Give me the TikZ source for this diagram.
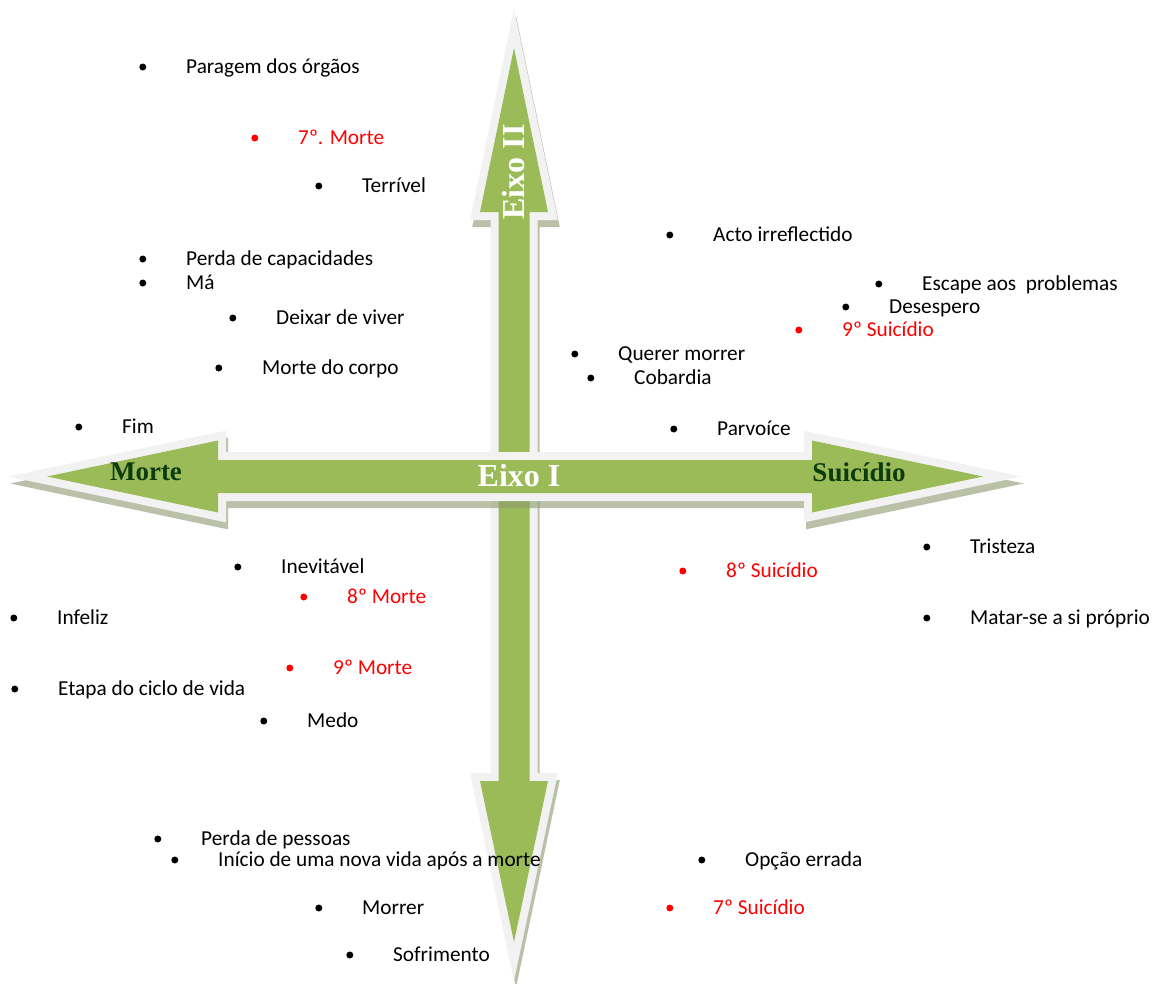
\documentclass[tikz,border=0pt]{standalone}
\usepackage{fontspec}
\setmainfont{Carlito}
\newfontfamily\serifb{Liberation Serif}
\usepackage{tikz}

\definecolor{verde}{RGB}{155,187,89}
\definecolor{borda}{RGB}{242,242,242}
\definecolor{sombra}{RGB}{140,152,110}
\definecolor{verdeescuro}{RGB}{12,60,12}

% contornos das setas
\newcommand{\setaH}{(47,476.5) -- (218,440.5) -- (218,460) -- (812,460) -- (812,440.5) -- (983,476.5) -- (812,512.5) -- (812,493) -- (218,493) -- (218,512.5) -- cycle}
\newcommand{\setaV}{(514,48) -- (548,212) -- (529.5,212) -- (529.5,781) -- (548,781) -- (514,942) -- (480,781) -- (498.5,781) -- (498.5,212) -- (480,212) -- cycle}

\begin{document}
\begin{tikzpicture}[x=1pt, y=-1pt,
	item/.style={anchor=west, inner sep=0pt, text height=15pt, text depth=3pt, yshift=-1pt,
		font=\fontsize{21.3}{25}\selectfont, text=#1,
		label={[bolinha, fill=#1]left:{}}},
	item/.default=black,
	bolinha/.style={circle, inner sep=0pt, minimum size=7pt, xshift=-39.5pt},
	contorno/.style={draw=borda, line width=16pt, line join=miter},
	fundo/.style={fill=sombra, draw=sombra, line width=16pt, line join=miter, opacity=0.6},
	rotulo/.style={inner sep=0pt, font=\serifb\bfseries\fontsize{27}{30}\selectfont}]
	\useasboundingbox (0,0) rectangle (1153,983);
	%%%	Seta vertical
	\path[fundo, shift={(2,7)}] \setaV;
	\path[contorno] \setaV;
	\fill[verde] \setaV;
	%%%	Seta horizontal
	\path[fundo, shift={(2,7)}] \setaH;
	\path[contorno] \setaH;
	\fill[verde] \setaH;
	%%%	Rotulos
	\node[rotulo, text=verdeescuro] (morte) at (146,472) {Morte};
	\node[rotulo, text=verdeescuro] (suicidio) at (859,472) {Suicídio};
	\node[rotulo, text=white, font=\serifb\bfseries\fontsize{32}{34}\selectfont] (eixoI) at (519,476) {Eixo I};
	\node[rotulo, text=white, font=\serifb\bfseries\fontsize{32}{34}\selectfont, rotate=90] (eixoII) at (514,172) {Eixo II};
	%%%	Quadrante superior esquerdo
	\node[item] (paragem) at (186,66) {Paragem dos órgãos};
	\node[item=red] (morte7) at (298,137) {7º. Morte};
	\node[item] (terrivel) at (362,185) {Terrível};
	\node[item] (perdacap) at (186,258) {Perda de capacidades};
	\node[item] (ma) at (186,282) {Má};
	\node[item] (deixar) at (276,317) {Deixar de viver};
	\node[item] (mortecorpo) at (262,367) {Morte do corpo};
	\node[item] (fim) at (122,426) {Fim};
	%%%	Quadrante superior direito
	\node[item] (acto) at (713,234) {Acto irreflectido};
	\node[item] (escape) at (922,283) {Escape aos\ \ problemas};
	\node[item] (desespero) at (889,306) {Desespero};
	\node[item=red] (suicidio9) at (842,329) {9º Suicídio};
	\node[item] (querer) at (618,353) {Querer morrer};
	\node[item] (cobardia) at (634,377) {Cobardia};
	\node[item] (parvoice) at (717,428) {Parvoíce};
	%%%	Quadrante inferior esquerdo
	\node[item] (inevitavel) at (281,566) {Inevitável};
	\node[item=red] (morte8) at (347,596) {8º Morte};
	\node[item] (infeliz) at (57,617) {Infeliz};
	\node[item=red] (morte9) at (333,667) {9º Morte};
	\node[item] (etapa) at (58,688) {Etapa do ciclo de vida};
	\node[item] (medo) at (307,720) {Medo};
	\node[item] (perdapess) at (201,838) {Perda de pessoas};
	\node[item] (inicio) at (218,859) {Início de uma nova vida após a morte};
	\node[item] (morrer) at (362,907) {Morrer};
	\node[item] (sofrimento) at (393,954) {Sofrimento};
	%%%	Quadrante inferior direito
	\node[item] (tristeza) at (970,546) {Tristeza};
	\node[item=red] (suicidio8) at (726,570) {8º Suicídio};
	\node[item] (matar) at (970,617) {Matar-se a si próprio};
	\node[item] (opcao) at (745,859) {Opção errada};
	\node[item=red] (suicidio7) at (713,907) {7º Suicídio};
\end{tikzpicture}
\end{document}
